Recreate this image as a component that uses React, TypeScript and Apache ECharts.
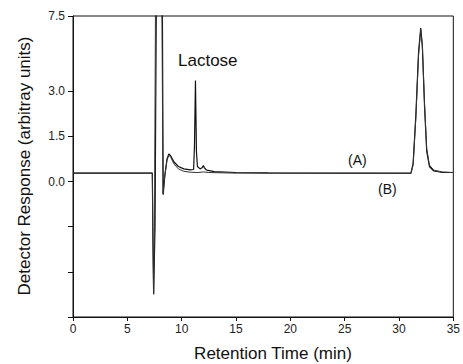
import React, { useEffect, useRef } from "react";
import * as echarts from "echarts";

// Retention time (min) and detector response (plot units; top of frame labelled 7.5)
const timeA = [0, 7.3, 7.36, 7.42, 7.55, 7.7, 8.2, 8.3, 8.45, 8.65, 8.82, 9.0, 9.3, 9.7, 10.2, 10.8, 11.1, 11.18, 11.27, 11.36, 11.45, 11.7, 11.9, 12.0, 12.1, 12.3, 13, 15, 18, 25, 31.1, 31.3, 31.55, 31.8, 32.0, 32.15, 32.35, 32.55, 32.8, 33.2, 34, 35];
const respA = [0.28, 0.28, -2.0, -3.74, -1.5, 8, 8, -0.44, 0.2, 0.75, 0.92, 0.85, 0.65, 0.5, 0.42, 0.39, 0.4, 1.2, 3.36, 1.0, 0.5, 0.42, 0.47, 0.53, 0.45, 0.38, 0.33, 0.3, 0.29, 0.28, 0.28, 0.6, 2.2, 4.3, 5.1, 4.5, 2.5, 1.0, 0.5, 0.35, 0.3, 0.3];

const timeB = [0, 7.3, 7.36, 7.42, 7.5, 7.62, 8.15, 8.28, 8.45, 8.65, 8.82, 9.0, 9.3, 9.7, 10.2, 10.8, 11.5, 12.0, 12.5, 15, 31.1, 31.3, 31.55, 31.8, 32.0, 32.15, 32.35, 32.55, 32.8, 33.2, 34, 35];
const respB = [0.28, 0.28, -2.0, -3.74, -1.5, 8, 8, -0.4, 0.2, 0.7, 0.88, 0.8, 0.58, 0.42, 0.34, 0.31, 0.3, 0.32, 0.3, 0.28, 0.27, 0.55, 2.1, 4.2, 5.05, 4.5, 2.6, 1.1, 0.55, 0.38, 0.32, 0.3];

const xTicks = [0, 5, 10, 15, 20, 25, 30, 35];
const yTickValues = [-4.5, -3, -1.5, 0, 1.5, 3, 5.5];
const yLabelValues = [0, 1.5, 3, 5.5];
const yLabelText: Record<string, string> = { "0": "0.0", "1.5": "1.5", "3": "3.0", "5.5": "7.5" };

const FONT = "'Liberation Sans', Arial, Helvetica, sans-serif";

export default function App() {
  const ref = useRef<HTMLDivElement>(null);
  useEffect(() => {
    if (!ref.current) return;
    const chart = echarts.init(ref.current, null, { renderer: "svg" });
    const pairs = (t: number[], v: number[]) => t.map((x, i) => [x, v[i]]);
    chart.setOption({
      animation: false,
      backgroundColor: "#ffffff",
      textStyle: { fontFamily: FONT },
      grid: {
        left: 73,
        right: 8,
        top: 16,
        bottom: 47,
        show: true,
        borderColor: "#111",
        borderWidth: 1,
      },
      xAxis: {
        type: "value",
        min: 0,
        max: 35,
        interval: 5,
        splitLine: { show: false },
        axisLine: { onZero: false, lineStyle: { color: "#111", width: 1 } },
        axisTick: { show: true, length: 4, lineStyle: { color: "#111" } },
        axisLabel: {
          color: "#222",
          fontSize: 12,
          margin: 6,
          fontFamily: FONT,
          customValues: xTicks,
        },
      },
      yAxis: {
        type: "value",
        min: -4.5,
        max: 5.5,
        splitLine: { show: false },
        axisLine: { show: true, onZero: false, lineStyle: { color: "#111", width: 1 } },
        axisTick: { show: true, length: 5, lineStyle: { color: "#111" }, customValues: yTickValues },
        axisLabel: {
          color: "#222",
          fontSize: 12,
          margin: 8,
          fontFamily: FONT,
          customValues: yLabelValues,
          formatter: (v: number) => yLabelText[String(v)] ?? "",
        },
      },
      series: [
        {
          name: "A",
          type: "line",
          data: pairs(timeA, respA),
          showSymbol: false,
          clip: true,
          lineStyle: { color: "#111", width: 1.2 },
        },
        {
          name: "B",
          type: "line",
          data: pairs(timeB, respB),
          showSymbol: false,
          clip: true,
          lineStyle: { color: "#333", width: 1 },
        },
      ],
      graphic: [
        {
          type: "text",
          left: 178,
          top: 52,
          style: { text: "Lactose", fontSize: 17, fill: "#111", fontFamily: FONT },
        },
        {
          type: "text",
          left: 348,
          top: 153,
          style: { text: "(A)", fontSize: 14, fill: "#111", fontFamily: FONT },
        },
        {
          type: "text",
          left: 378,
          top: 182,
          style: { text: "(B)", fontSize: 14, fill: "#111", fontFamily: FONT },
        },
        {
          type: "text",
          x: 273,
          y: 353,
          style: {
            text: "Retention Time (min)",
            fontSize: 17,
            fill: "#111",
            fontFamily: FONT,
            align: "center",
            verticalAlign: "middle",
          },
        },
        {
          type: "text",
          x: 24,
          y: 166,
          rotation: Math.PI / 2,
          style: {
            text: "Detector Response (arbitray units)",
            fontSize: 17,
            fill: "#111",
            fontFamily: FONT,
            align: "center",
            verticalAlign: "middle",
          },
        },
      ],
    });
    return () => chart.dispose();
  }, []);
  return <div ref={ref} style={{ width: 463, height: 364, position: "absolute", left: 0, top: 0 }} />;
}
